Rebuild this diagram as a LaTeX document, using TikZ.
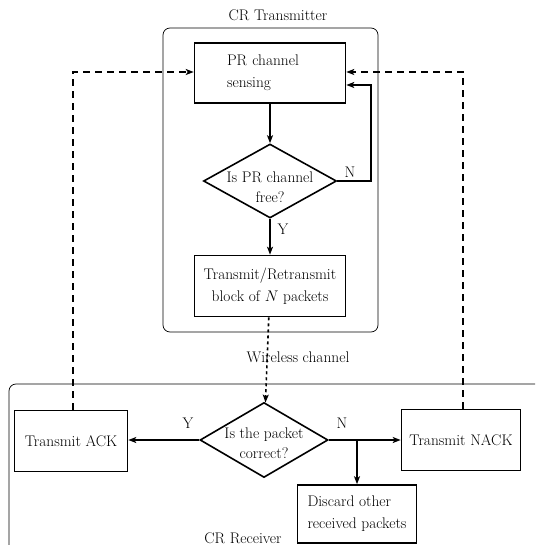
\documentclass[tikz,border=0pt]{standalone}
\usepackage{fix-cm}
\usepackage{fontspec}
\usetikzlibrary{arrows.meta,shapes.geometric}
\begin{document}
\begin{tikzpicture}[x=1pt,y=-1pt,
  every node/.style={font=\fontsize{15.4}{22}\selectfont},
  box/.style={draw,line width=1.6pt,inner sep=0pt,align=left},
  decision/.style={draw,diamond,line width=1.6pt,inner sep=0pt},
  inside/.style={inner sep=0pt,align=center,font=\fontsize{15.4}{20}\selectfont},
  group/.style={draw,line width=0.7pt,rounded corners=7pt},
  flow/.style={line width=1.6pt,-{Stealth[length=8pt,width=6pt,inset=2pt]}},
  feedback/.style={flow,dash pattern=on 7pt off 5pt},
  radio/.style={flow,dash pattern=on 3pt off 3pt},
  lbl/.style={inner sep=1pt}]
\useasboundingbox (0,0) rectangle (535,545);
\clip (0,0) rectangle (535,545);

% transmitter side
\draw[group] (163,28) rectangle (378,332);
\node[lbl] (txlabel) at (278,15) {CR Transmitter};
\node[box,minimum width=151pt,minimum height=60pt,text width=86pt] (sense) at (270,73) {PR channel\\sensing};
\node[decision,minimum width=133pt,minimum height=74pt] (free) at (270,181) {};
\node[inside] (freetext) at ([yshift=-6pt]free.center) {Is PR channel\\free?};
\node[box,align=center,minimum width=151pt,minimum height=61pt] (send) at (270,286) {Transmit/Retransmit\\block of $N$ packets};

% receiver side
\draw[group] (9,384) rectangle (560,580);
\node[lbl] (rxlabel) at (243,538) {CR Receiver};
\node[decision,minimum width=128pt,minimum height=75pt] (ok) at (264,440) {};
\node[inside] (oktext) at ([yshift=-3pt]ok.center) {Is the packet\\correct?};
\node[box,minimum width=113pt,minimum height=61pt] (ack) at (71,441) {Transmit ACK};
\node[box,minimum width=119pt,minimum height=61pt] (nack) at (461,440) {Transmit NACK};
\node[box,minimum width=119pt,minimum height=58pt] (drop) at (357,514) {Discard other\\received packets};
\node[lbl] (chan) at (298,357) {Wireless channel};

% flow inside the transmitter
\draw[flow] (sense) -- (free);
\draw[flow] (free) -- (send);
\node[lbl] (ylab) at (283,229) {Y};
\coordinate (loopA) at (371,181);
\coordinate (loopB) at (371,85);
\draw[flow] (free.east) -- (loopA) -- (loopB) -- (sense.east |- loopB);
\node[lbl] (nlab) at (350,172) {N};

% radio link
\draw[radio] (send) -- (ok);

% flow inside the receiver
\draw[flow] (ok.west) -- (ack.east |- ok.west);
\node[lbl] (ylab2) at (188,423) {Y};
\draw[flow] (ok.east) -- (nack.west |- ok.east);
\node[lbl] (nlab2) at (342,423) {N};
\coordinate (split) at (357,440);
\draw[flow] (split) -- (drop.north);

% acknowledgements back to the sender
\coordinate (ackUp) at (73,72);
\coordinate (nackUp) at (463,72);
\draw[feedback] (ack.north -| ackUp) -- (ackUp) -- (sense.west |- ackUp);
\draw[feedback] (nack.north -| nackUp) -- (nackUp) -- (sense.east |- nackUp);
\end{tikzpicture}
\end{document}
